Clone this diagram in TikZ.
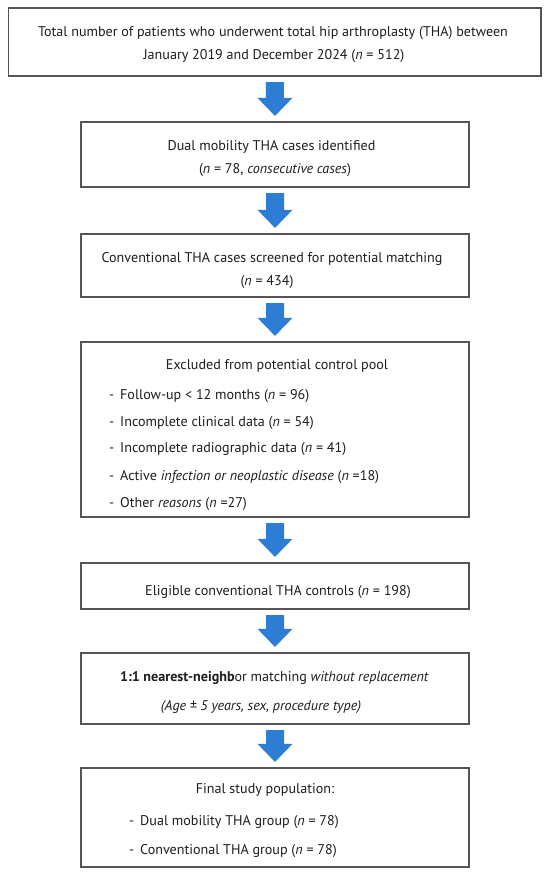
\documentclass[tikz,border=0pt]{standalone}
\usepackage{fontspec}
\setmainfont{PT Sans}
\usetikzlibrary{calc}
\definecolor{arrowblue}{RGB}{45,125,212}
\definecolor{boxline}{RGB}{85,85,85}
\definecolor{txtc}{RGB}{30,30,30}
\begin{document}
\begin{tikzpicture}[x=1pt,y=-1pt,
  box/.style={draw=boxline, line width=1.2pt, inner sep=0pt, fill=white},
  lbl/.style={text=txtc, inner sep=0pt, anchor=base, font=\fontsize{14.1}{17}\selectfont},
  item/.style={lbl, anchor=base west},
  blockarrow/.style={fill=arrowblue, to path={
     ($(\tikztostart)+(-9,5.5)$) -- ($(\tikztostart)+(9,5.5)$) --
     ($(\tikztotarget)+(9,-23.5)$) -- ($(\tikztotarget)+(17.5,-23.5)$) --
     ($(\tikztotarget)+(0,-5.5)$) -- ($(\tikztotarget)+(-17.5,-23.5)$) --
     ($(\tikztotarget)+(-9,-23.5)$) -- cycle}}]
\useasboundingbox[fill=white] (0,0) rectangle (550,878);
\newcommand{\dsh}{\makebox[11pt][l]{-}}
% boxes
\node[box, minimum width=532.5pt, minimum height=68pt] (b1) at (274.75,42) {};
\node[box, minimum width=388pt, minimum height=65pt] (b2) at (275,154.5) {};
\node[box, minimum width=388pt, minimum height=63pt] (b3) at (275,265.5) {};
\node[box, minimum width=388pt, minimum height=175pt] (b4) at (275,429.5) {};
\node[box, minimum width=388pt, minimum height=46pt] (b5) at (275,586) {};
\node[box, minimum width=388pt, minimum height=71pt] (b6) at (275,688.5) {};
\node[box, minimum width=388pt, minimum height=99pt] (b7) at (275,817.5) {};
% arrows
\path[blockarrow] (b1.south) to (b2.north);
\path[blockarrow] (b2.south) to (b3.north);
\path[blockarrow] (b3.south) to (b4.north);
\path[blockarrow] (b4.south) to (b5.north);
\path[blockarrow] (b5.south) to (b6.north);
\path[blockarrow] (b6.south) to (b7.north);
% texts
\node[lbl] (t1a) at (273,36.5) {Total number of patients who underwent total hip arthroplasty (THA) between};
\node[lbl] (t1b) at (274,59.5) {January 2019 and December 2024 (\textit{n} = 512)};
\node[lbl] (t2a) at (271.5,150) {Dual mobility THA cases identified};
\node[lbl] (t2b) at (275,173.5) {(\textit{n} = 78, \textit{consecutive cases})};
\node[lbl] (t3a) at (272,262) {Conventional THA cases screened for potential matching};
\node[lbl] (t3b) at (267,285) {(\textit{n} = 434)};
\node[lbl] (t4) at (277,369) {Excluded from potential control pool};
\node[item] (t4a) at (109,399) {\dsh Follow-up {\textless} 12 months (\textit{n} = 96)};
\node[item] (t4b) at (109,426) {\dsh Incomplete clinical data (\textit{n} = 54)};
\node[item] (t4c) at (109,452.5) {\dsh Incomplete radiographic data (\textit{n} = 41)};
\node[item] (t4d) at (109,480) {\dsh Active \textit{infection or neoplastic disease} (\textit{n} =18)};
\node[item] (t4e) at (109,507) {\dsh Other \textit{reasons} (\textit{n} =27)};
\node[lbl] (t5) at (278,595) {Eligible conventional THA controls (\textit{n} = 198)};
\node[lbl] (t6a) at (274.5,681) {\textbf{1:1 nearest-neighb}or matching \textit{without replacement}};
\node[lbl] (t6b) at (261,710) {\textit{(Age ± 5 years, sex, procedure type)}};
\node[lbl] (t7) at (265,793) {Final study population:};
\node[item] (t7a) at (129,825) {\dsh Dual mobility THA group (\textit{n} = 78)};
\node[item] (t7b) at (129,854) {\dsh Conventional THA group (\textit{n} = 78)};
\end{tikzpicture}
\end{document}
